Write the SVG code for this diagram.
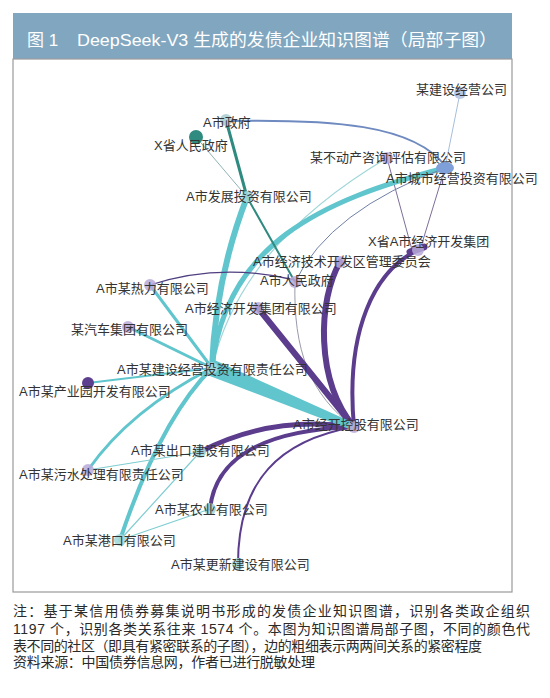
<svg xmlns="http://www.w3.org/2000/svg" width="550" height="698" viewBox="0 0 550 698">
<style>
.t{font-family:"Liberation Sans","Noto Sans CJK SC",sans-serif;}
.lb{font-size:13px;fill:#333;}
.e{fill:none;stroke-linecap:round;}
.cy{stroke:#60c5cc;}
.pu{stroke:#5b3c8d;}
.dt{stroke:#2f8a80;}
.nl{fill:#b9a9d8;fill-opacity:.85;}
.nt{fill:#a3d8da;fill-opacity:.9;}
.fn{font-size:14px;fill:#2a2a2a;}
</style>
<rect x="0" y="0" width="550" height="698" fill="#fff"/>
<rect x="13" y="13" width="499" height="46" fill="#81a7c0"/>
<text class="t" x="27" y="46" font-size="17" fill="#fff">图 1</text>
<text class="t" x="77" y="46" font-size="17" fill="#fff" textLength="420" lengthAdjust="spacingAndGlyphs">DeepSeek-V3 生成的发债企业知识图谱（局部子图）</text>
<rect x="13" y="59" width="499" height="533" fill="none" stroke="#9a9a9a" stroke-width="1.2"/>

<g id="connectors">
<path class="e" stroke="#6e8ac0" stroke-width="2" d="M226,121 C330,119 415,124 446,167"/>
<path class="e" stroke="#8fb3b5" stroke-width="1" d="M196,137 L247,197"/>
<path class="e" stroke="#a7bfdc" stroke-width="1" d="M460,93 L445,168"/>
<path class="e" stroke="#7d6e99" stroke-width="1" d="M387,158 L412,250"/>
<path class="e" stroke="#7d6e99" stroke-width="1" d="M445,168 L420,250"/>
<path class="e" stroke="#9fd6d8" stroke-width="1.2" d="M387,158 Q240,245 212,368"/>
<path class="e cy" stroke-width="5" d="M445,168 C320,200 225,245 212,368"/>
<path class="e" stroke="#6f7fa8" stroke-width="1" d="M445,168 Q330,210 295,282"/>
<path class="e cy" stroke-width="6" d="M247,197 Q215,280 212,368"/>
<path class="e dt" stroke-width="3" d="M226,120 L247,197"/>
<path class="e dt" stroke-width="2" d="M247,197 L295,282"/>
<path class="e" stroke="#4f3f80" stroke-width="1.3" d="M150,285 Q220,262 295,280"/>
<path class="e cy" stroke-width="3" d="M150,285 L212,368"/>
<path class="e cy" stroke-width="3" d="M128,327 L212,368"/>
<path class="e cy" stroke-width="2" d="M88,383 L212,368"/>
<path class="e cy" stroke-width="3" d="M212,368 Q130,410 88,470"/>
<path class="e cy" stroke-width="4" d="M212,368 Q160,420 120,540"/>
<path class="e" stroke="#7fcdd1" stroke-width="1.2" d="M88,470 L200,452"/>
<path class="e" stroke="#7fcdd1" stroke-width="1.2" d="M120,540 L200,452"/>
<path class="e" stroke="#7fcdd1" stroke-width="1.2" d="M120,540 L210,509"/>
<path class="e" stroke="#9a9aaa" stroke-width="1" d="M295,282 C293,350 310,395 354,427"/>
<path class="e pu" stroke-width="6" d="M258,308 L354,427"/>
<path class="e pu" stroke-width="6" d="M340,262 C318,300 315,380 354,427"/>
<path class="e pu" stroke-width="4" d="M418,250 C375,270 345,330 354,427"/>
<path class="e pu" stroke-width="7" d="M410,252 L424,247"/>
<path class="e pu" stroke-width="5" d="M354,427 Q270,415 200,452"/>
<path class="e pu" stroke-width="4" d="M354,427 C260,430 215,460 210,509"/>
<path class="e pu" stroke-width="2" d="M354,427 C280,440 238,480 238,564"/>
<path fill="#60c5cc" d="M208.5,375.5 L215.5,360.5 L355.5,423.8 L352.5,430.2 Z"/>
</g>

<g id="n-jsjy"><circle cx="460" cy="93" r="6" fill="#b9c9e6"/><text class="t lb" x="416" y="94">某建设经营公司</text></g>
<g id="n-szf"><circle cx="226" cy="120" r="6" fill="#b5d3d6"/><text class="t lb" x="203" y="127">A市政府</text></g>
<g id="n-xsrmzf"><circle cx="196" cy="137" r="7" fill="#2f8a80"/><text class="t lb" x="154" y="150">X省人民政府</text></g>
<g id="n-fztz"><circle cx="247" cy="197" r="6" class="nt"/><text class="t lb" x="186" y="201">A市发展投资有限公司</text></g>
<g id="n-bdc"><circle cx="387" cy="158" r="6" class="nl"/><text class="t lb" x="310" y="162">某不动产咨询评估有限公司</text></g>
<g id="n-csjy"><ellipse cx="445" cy="168" rx="9" ry="6" fill="#7f9fd8"/><text class="t lb" x="386" y="183">A市城市经营投资有限公司</text></g>
<g id="n-xsajk"><circle cx="418" cy="250" r="6" class="nl"/><text class="t lb" x="368" y="246">X省A市经济开发集团</text></g>
<g id="n-jjjs"><circle cx="340" cy="262" r="6" class="nl"/><text class="t lb" x="253" y="266">A市经济技术开发区管理委员会</text></g>
<g id="n-srmzf"><circle cx="295" cy="282" r="6" class="nl"/><text class="t lb" x="260" y="285">A市人民政府</text></g>
<g id="n-jjkf"><circle cx="258" cy="308" r="6" class="nl"/><text class="t lb" x="185" y="313">A市经济开发集团有限公司</text></g>
<g id="n-rl"><circle cx="150" cy="285" r="6" class="nl"/><text class="t lb" x="96" y="293">A市某热力有限公司</text></g>
<g id="n-qc"><circle cx="128" cy="327" r="6" class="nl"/><text class="t lb" x="71" y="334">某汽车集团有限公司</text></g>
<g id="n-jsjytz"><circle cx="212" cy="368" r="6" class="nt"/><text class="t lb" x="117" y="374">A市某建设经营投资有限责任公司</text></g>
<g id="n-cyy"><circle cx="88" cy="383" r="6" fill="#5d3f8f"/><text class="t lb" x="19" y="396">A市某产业园开发有限公司</text></g>
<g id="n-jkkg"><circle cx="354" cy="427" r="6" class="nl"/><text class="t lb" x="293" y="429">A市经开控股有限公司</text></g>
<g id="n-ck"><circle cx="200" cy="452" r="6" class="nt"/><text class="t lb" x="131" y="455">A市某出口建设有限公司</text></g>
<g id="n-ws"><circle cx="88" cy="470" r="6" class="nl"/><text class="t lb" x="19" y="479">A市某污水处理有限责任公司</text></g>
<g id="n-ny"><circle cx="210" cy="509" r="6" class="nt"/><text class="t lb" x="155" y="514">A市某农业有限公司</text></g>
<g id="n-gk"><circle cx="120" cy="540" r="6" class="nt"/><text class="t lb" x="63" y="545">A市某港口有限公司</text></g>
<g id="n-gx"><circle cx="238" cy="564" r="6" class="nt"/><text class="t lb" x="171" y="569">A市某更新建设有限公司</text></g>

<text class="t fn" x="13" y="616" textLength="517" lengthAdjust="spacing">注：基于某信用债券募集说明书形成的发债企业知识图谱，识别各类政企组织</text>
<text class="t fn" x="13" y="634" textLength="517" lengthAdjust="spacing">1197 个，识别各类关系往来 1574 个。本图为知识图谱局部子图，不同的颜色代</text>
<text class="t fn" x="13" y="651" textLength="469" lengthAdjust="spacing">表不同的社区（即具有紧密联系的子图），边的粗细表示两两间关系的紧密程度</text>
<text class="t fn" x="13" y="667" textLength="302" lengthAdjust="spacing">资料来源：中国债券信息网，作者已进行脱敏处理</text>
</svg>
